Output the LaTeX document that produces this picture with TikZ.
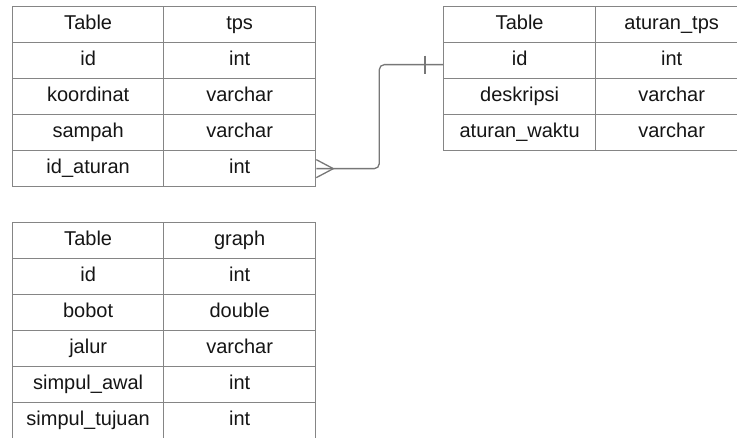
\documentclass[tikz,border=0pt]{standalone}
\usepackage{fontspec}
\setmainfont{Liberation Sans}
\definecolor{tablegray}{HTML}{858585}
\definecolor{linkgray}{HTML}{777777}
\definecolor{textdark}{HTML}{151515}
\begin{document}
\begin{tikzpicture}[x=1pt,y=-1pt,
  cell/.style={draw=tablegray, line width=1.3pt, minimum height=36pt, inner sep=0pt,
    text height=14pt, text depth=4pt, font=\fontsize{20}{23}\selectfont, text=textdark, anchor=north west},
  lcell/.style={cell, minimum width=151pt},
  rcell/.style={cell, minimum width=152pt},
  link/.style={draw=linkgray, line width=1.3pt}]
\useasboundingbox (0,0) rectangle (737,438);
\clip (0,0) rectangle (737,438);
% table tps
\foreach \a/\b [count=\i from 0] in {Table/tps, id/int, koordinat/varchar, sampah/varchar, id\_aturan/int} {
  \node[lcell] (tpsL\i) at (12,{6+36*\i}) {\a};
  \node[rcell] (tpsR\i) at (163,{6+36*\i}) {\b};
}
% table aturan_tps
\foreach \a/\b [count=\i from 0] in {Table/aturan\_tps, id/int, deskripsi/varchar, aturan\_waktu/varchar} {
  \node[rcell] (atL\i) at (443,{6+36*\i}) {\a};
  \node[rcell] (atR\i) at (595,{6+36*\i}) {\b};
}
% table graph
\foreach \a/\b [count=\i from 0] in {Table/graph, id/int, bobot/double, jalur/varchar, simpul\_awal/int, simpul\_tujuan/int} {
  \node[lcell] (grL\i) at (12,{222+36*\i}) {\a};
  \node[rcell] (grR\i) at (163,{222+36*\i}) {\b};
}
% connector
\draw[link, rounded corners=5pt] (tpsR4.east) -- ++(63,0) |- ([yshift=-4pt]atL1.west);
\draw[link] ([yshift=9pt]tpsR4.east) -- ++(17,9) -- ([yshift=-9pt]tpsR4.east);
\draw[link] ([xshift=-18pt,yshift=5pt]atL1.west) -- ++(0,18);
\end{tikzpicture}
\end{document}
